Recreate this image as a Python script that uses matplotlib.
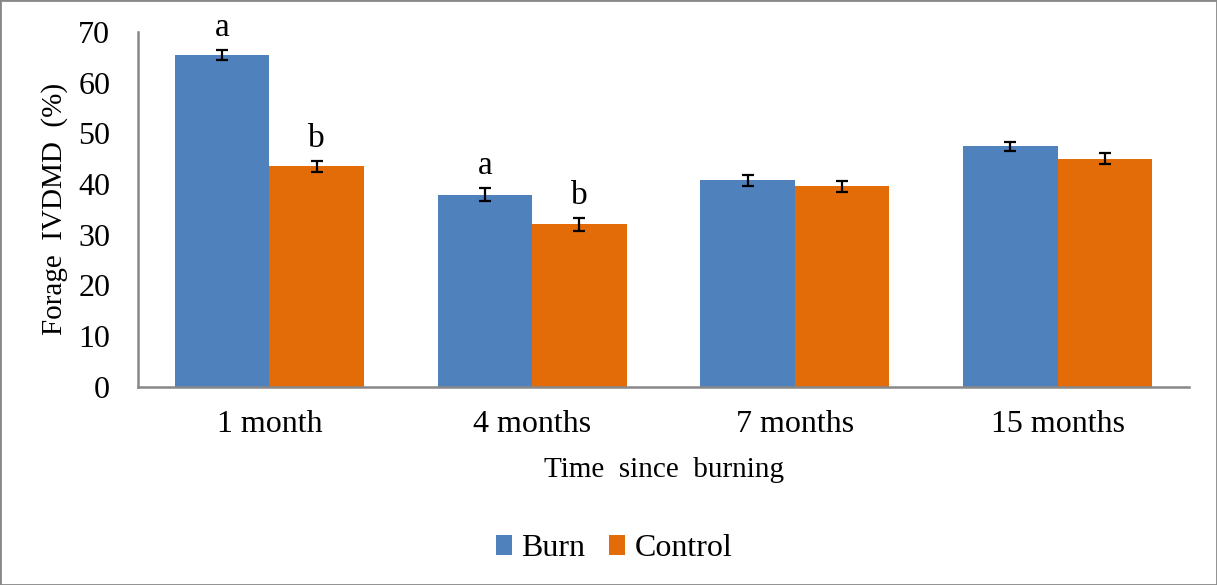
import numpy as np
from matplotlib import pyplot as plt
from matplotlib.patches import Rectangle

plt.rcParams['font.family'] = ['Liberation Serif', 'DejaVu Serif']

categories = ["1 month", "4 months", "7 months", "15 months"]
burn = [65.5, 37.9, 40.7, 47.4]
control = [43.5, 32.0, 39.5, 45.0]
burn_err = [1.0, 1.3, 1.1, 0.9]
control_err = [1.1, 1.2, 1.05, 1.05]
burn_letters = ["a", "a", "", ""]
control_letters = ["b", "b", "", ""]

blue = "#4F81BD"
orange = "#E36C09"
fs = 23

fig = plt.figure(figsize=(12.17, 5.85), dpi=100)
ax = fig.add_axes([138 / 1217, (585 - 386.5) / 585, (1189 - 138) / 1217, (386.5 - 32) / 585])

x = np.arange(len(categories))
w = 0.36
err_kw = dict(ecolor="black", elinewidth=1.6, capsize=4.5, capthick=1.6)
ax.bar(x - w / 2, burn, w, color=blue, label="Burn", yerr=burn_err, error_kw=err_kw)
ax.bar(x + w / 2, control, w, color=orange, label="Control", yerr=control_err, error_kw=err_kw)

# significance letters above the error bars
for i in range(len(categories)):
    if burn_letters[i]:
        ax.annotate(burn_letters[i], (x[i] - w / 2, burn[i] + burn_err[i]), xytext=(0, 5),
                    textcoords="offset points", ha="center", va="bottom", fontsize=fs + 1)
    if control_letters[i]:
        ax.annotate(control_letters[i], (x[i] + w / 2, control[i] + control_err[i]), xytext=(0, 5),
                    textcoords="offset points", ha="center", va="bottom", fontsize=fs + 1)

ax.set_xlim(-0.5, len(categories) - 0.5)
ax.set_ylim(0, 70)
ax.set_yticks(range(0, 71, 10))
ax.set_xticks(x)
ax.set_xticklabels(categories)
ax.tick_params(axis="both", length=0, labelsize=fs)
ax.tick_params(axis="y", pad=20)
ax.tick_params(axis="x", pad=17)

for s in ["top", "right"]:
    ax.spines[s].set_visible(False)
for s in ["left", "bottom"]:
    ax.spines[s].set_color("#888888")
    ax.spines[s].set_linewidth(1.8)

ax.set_xlabel("Time  since  burning", fontsize=21, labelpad=13)
ax.set_ylabel("Forage  IVDMD  (%)", fontsize=21, labelpad=7)

fig.legend(loc="center", bbox_to_anchor=(614 / 1217, (585 - 549) / 585), ncol=2, frameon=False,
           fontsize=fs, handlelength=0.5, handleheight=0.6, handletextpad=0.3, columnspacing=0.75)

# chart border
fig.patches.append(Rectangle((0, 0), 1, 1, transform=fig.transFigure, fill=False,
                             edgecolor="#888888", linewidth=2))

fig.savefig("out.png", dpi=100)
